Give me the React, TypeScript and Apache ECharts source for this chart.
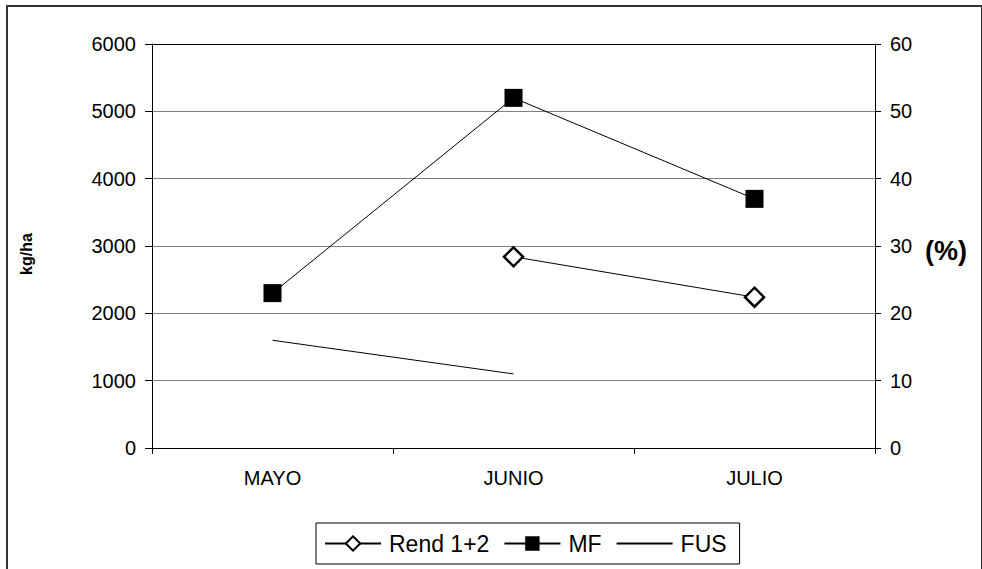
import React, { useEffect, useRef } from "react";
import * as echarts from "echarts";

// Months on the category axis
const months = ["MAYO", "JUNIO", "JULIO"];
// Yield series (kg/ha, left axis)
const rend12 = [null, 2840, 2240];
const mf = [2300, 5200, 3700];
// FUS percentage (right axis)
const fus = [16, 11, null];

const FONT = "'Liberation Sans', Arial, Helvetica, sans-serif";

export default function App() {
  const ref = useRef<HTMLDivElement>(null);

  useEffect(() => {
    if (!ref.current) return;
    const chart = echarts.init(ref.current, null, { renderer: "svg" });

    // gridline colours, bottom to top; the top line is drawn darker
    const grid = ["#808080", "#808080", "#808080", "#808080", "#808080", "#808080", "#000000"];

    chart.setOption({
      animation: false,
      backgroundColor: "#ffffff",
      textStyle: { fontFamily: FONT, color: "#000" },
      grid: { left: 152, right: 107, top: 44, bottom: 121, containLabel: false },
      legend: {
        left: 316,
        top: 523,
        padding: [9, 13, 9, 8],
        borderColor: "#000",
        borderWidth: 1,
        itemGap: 14,
        itemWidth: 56,
        itemHeight: 18,
        textStyle: { fontSize: 23, fontFamily: FONT, color: "#000", padding: [0, 0, 0, 3] },
        data: ["Rend 1+2", "MF", "FUS"],
      },
      xAxis: {
        type: "category",
        data: months,
        boundaryGap: true,
        axisLine: { lineStyle: { color: "#000", width: 1 } },
        axisTick: { show: true, length: 6, lineStyle: { color: "#000" } },
        axisLabel: { fontSize: 20, color: "#000", margin: 20, fontFamily: FONT },
        splitLine: { show: false },
      },
      yAxis: [
        {
          type: "value",
          min: 0,
          max: 6000,
          interval: 1000,
          axisLine: { show: true, lineStyle: { color: "#000", width: 1 } },
          axisTick: { show: true, length: 7, lineStyle: { color: "#000" } },
          axisLabel: {
            fontSize: 20,
            color: "#000",
            margin: 16,
            fontFamily: FONT,
            formatter: (v: number) => String(v),
          },
          splitLine: { show: true, lineStyle: { color: grid, width: 1 } },
        },
        {
          type: "value",
          min: 0,
          max: 60,
          interval: 10,
          position: "right",
          axisLine: { show: true, lineStyle: { color: "#000", width: 1 } },
          axisTick: { show: true, length: 6, lineStyle: { color: "#000" } },
          axisLabel: {
            fontSize: 20,
            color: "#000",
            margin: 15,
            fontFamily: FONT,
            formatter: (v: number) => String(v),
          },
          splitLine: { show: false },
        },
      ],
      series: [
        {
          name: "Rend 1+2",
          type: "line",
          data: rend12,
          yAxisIndex: 0,
          symbol: "diamond",
          symbolSize: 19,
          showAllSymbol: true,
          connectNulls: false,
          itemStyle: { color: "#ffffff", borderColor: "#000", borderWidth: 2.5 },
          lineStyle: { color: "#000", width: 1 },
          z: 3,
        },
        {
          name: "MF",
          type: "line",
          data: mf,
          yAxisIndex: 0,
          symbol: "rect",
          symbolSize: 18,
          itemStyle: { color: "#000", borderColor: "#000", borderWidth: 0 },
          lineStyle: { color: "#000", width: 1 },
          z: 3,
        },
        {
          name: "FUS",
          type: "line",
          data: fus,
          yAxisIndex: 1,
          // plain line: zero-size markers so the legend shows only the stroke
          symbol: "circle",
          symbolSize: 0,
          itemStyle: { color: "#000", opacity: 0 },
          lineStyle: { color: "#000", width: 1 },
          z: 2,
        },
      ],
      graphic: [
        {
          type: "rect",
          shape: { x: 7, y: 6, width: 975, height: 620 },
          style: { fill: "none", stroke: "#333", lineWidth: 2 },
          silent: true,
          z: -1,
        },
        {
          type: "text",
          x: 26,
          y: 254,
          rotation: Math.PI / 2,
          style: {
            text: "kg/ha",
            font: `bold 16px ${FONT}`,
            fill: "#000",
            textAlign: "center",
            textVerticalAlign: "middle",
          },
        },
        {
          type: "text",
          x: 946,
          y: 251,
          style: {
            text: "(%)",
            font: `bold 27px ${FONT}`,
            fill: "#000",
            textAlign: "center",
            textVerticalAlign: "middle",
          },
        },
      ],
    });

    return () => chart.dispose();
  }, []);

  return (
    <div
      ref={ref}
      style={{ position: "absolute", left: 0, top: 0, width: 982, height: 569 }}
    />
  );
}
